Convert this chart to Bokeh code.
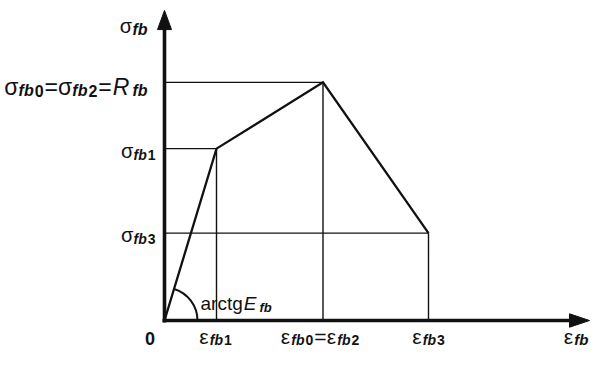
import math
from bokeh.plotting import figure
from bokeh.models import Range1d, Label
from bokeh.embed import file_html
from bokeh.resources import INLINE

# ---------------- data (schematic stress-strain law, arbitrary units) -------------
strain = [0.0, 0.52, 1.585, 2.64]      # 0, eps_fb1, eps_fb0 = eps_fb2, eps_fb3
stress = [0.0, 1.79, 2.48, 0.91]       # 0, sig_fb1, sig_fb0 = sig_fb2 = R_fb, sig_fb3
x_tick_labels = ["ε_{fb1}", "ε_{fb0}=ε_{fb2}", "ε_{fb3}"]   # at strain[1..3]
y_tick_labels = ["σ_{fb1}", "σ_{fb0}=σ_{fb2}=R_{fb}", "σ_{fb3}"]  # at stress[1..3]
x_title = "ε_{fb}"
y_title = "σ_{fb}"
origin_label = "0"
angle_label = "arctgE_{fb}"

# ---------------- layout -------------
X_END = 4.25      # end of strain axis arrow
Y_END = 3.23      # end of stress axis arrow
HEAD_L = 0.20
HEAD_W = 0.07
FONT = "Liberation Sans"
INK = "#111111"
GAP = 1.0

p = figure(width=590, height=349, x_range=Range1d(-1.64, 4.26), y_range=Range1d(-0.302, 3.333),
           output_backend="svg", toolbar_location=None, min_border=0,
           x_axis_location=None, y_axis_location=None)
p.grid.visible = False
p.outline_line_color = None
p.background_fill_color = "white"
p.border_fill_color = "white"

# reference (projection) lines
for xs, ys in zip(strain[1:], stress[1:]):
    p.line([0, xs], [ys, ys], line_color=INK, line_width=1.4)
    p.line([xs, xs], [0, ys], line_color=INK, line_width=1.4)

# constitutive curve
p.line(strain, stress, line_color=INK, line_width=2.3, line_join="miter")

# angle arc at origin (screen radius 33 px)
ang = math.atan2(stress[1] * 0.96, strain[1])
p.arc(x=[0], y=[0], radius=33, radius_units="screen", start_angle=0, end_angle=ang,
      line_color=INK, line_width=2)

# axes with arrow heads
p.line([-0.02, X_END - HEAD_L + 0.02], [0, 0], line_color=INK, line_width=3.6)
p.line([0, 0], [-0.02, Y_END - HEAD_L + 0.02], line_color=INK, line_width=3.6)
p.patch([X_END - HEAD_L, X_END, X_END - HEAD_L], [HEAD_W, 0, -HEAD_W], color=INK)
p.patch([-HEAD_W, 0, HEAD_W], [Y_END - HEAD_L, Y_END, Y_END - HEAD_L], color=INK)

# ---------------- rich-ish text helper -------------
REG = {'=': 0.584, 'R': 0.722, 'E': 0.667, 'a': 0.556, 'r': 0.333, 'c': 0.5, 't': 0.278,
       'g': 0.556, 'f': 0.278, 'b': 0.556, 'σ': 0.58, 'ε': 0.46}
BOLD = {'f': 0.333, 'b': 0.611}


def char_w(ch, bold):
    if ch.isdigit():
        return 0.556
    if bold and ch in BOLD:
        return BOLD[ch]
    return REG.get(ch, 0.556)


def parse(markup):
    parts = []
    i = 0
    while i < len(markup):
        if markup.startswith("_{", i):
            j = markup.index("}", i)
            sub = markup[i + 2:j]
            run = ""
            for ch in sub:
                if run and run[-1].isdigit() != ch.isdigit():
                    parts.append((run, True, "bold" if run[-1].isdigit() else "bold italic"))
                    run = ""
                run += ch
            if run:
                parts.append((run, True, "bold" if run[-1].isdigit() else "bold italic"))
            i = j + 1
        else:
            ch = markup[i]
            style = "italic" if (ch.isascii() and ch.isupper()) else "normal"
            if parts and not parts[-1][1] and parts[-1][2] == style:
                parts[-1] = (parts[-1][0] + ch, False, style)
            else:
                parts.append((ch, False, style))
            i += 1
    return parts


def draw_label(x, y, markup, F, S, align, dx, dy, sub_dy=4, gap=GAP, weight=None):
    """dx, dy: screen-pixel offsets of the label's baseline (dy positive = downwards)."""
    parts = parse(markup)
    widths = []
    for k, (t, is_sub, style) in enumerate(parts):
        size = S if is_sub else F
        bold = "bold" in style
        w = sum(char_w(c, bold) for c in t) * size
        if style == "italic":
            w += 2
        widths.append(w + (gap if k < len(parts) - 1 else 0))
    total = sum(widths)
    if align == "right":
        cur = dx - total
    elif align == "center":
        cur = dx - total / 2
    else:
        cur = dx
    for (t, is_sub, style), w in zip(parts, widths):
        size = S if is_sub else F
        st = weight if (weight and not is_sub) else style
        p.add_layout(Label(x=x, y=y, text=t, x_offset=cur,
                           y_offset=-(dy + (sub_dy if is_sub else 0)),
                           text_font=FONT, text_font_size=f"{size}px", text_font_style=st,
                           text_align="left", text_baseline="alphabetic", text_color=INK))
        cur += w


# y tick labels
y_sizes = [(20, 14, -9, 2), (23, 16, -17, 4.5), (20, 14, -9, 2)]
for lab, yv, (F, S, dx, dy) in zip(y_tick_labels, stress[1:], y_sizes):
    draw_label(0, yv, lab, F, S, "right", dx, dy)

# x tick labels
x_dx = [-1, -3, 0]
for lab, xv, dx in zip(x_tick_labels, strain[1:], x_dx):
    draw_label(xv, 0, lab, 21, 14, "center", dx, 16, sub_dy=3)

# axis titles
draw_label(0, Y_END, y_title, 20, 16, "right", -17, 15.5)
draw_label(X_END, 0, x_title, 21, 15, "right", -1, 16, sub_dy=3)
draw_label(0, 0, origin_label, 18, 14, "center", -14.5, 18, weight="bold")
draw_label(0, 0, angle_label, 19, 13, "left", 36, -17, sub_dy=4)

open("out.html", "w").write(file_html(p, INLINE))
